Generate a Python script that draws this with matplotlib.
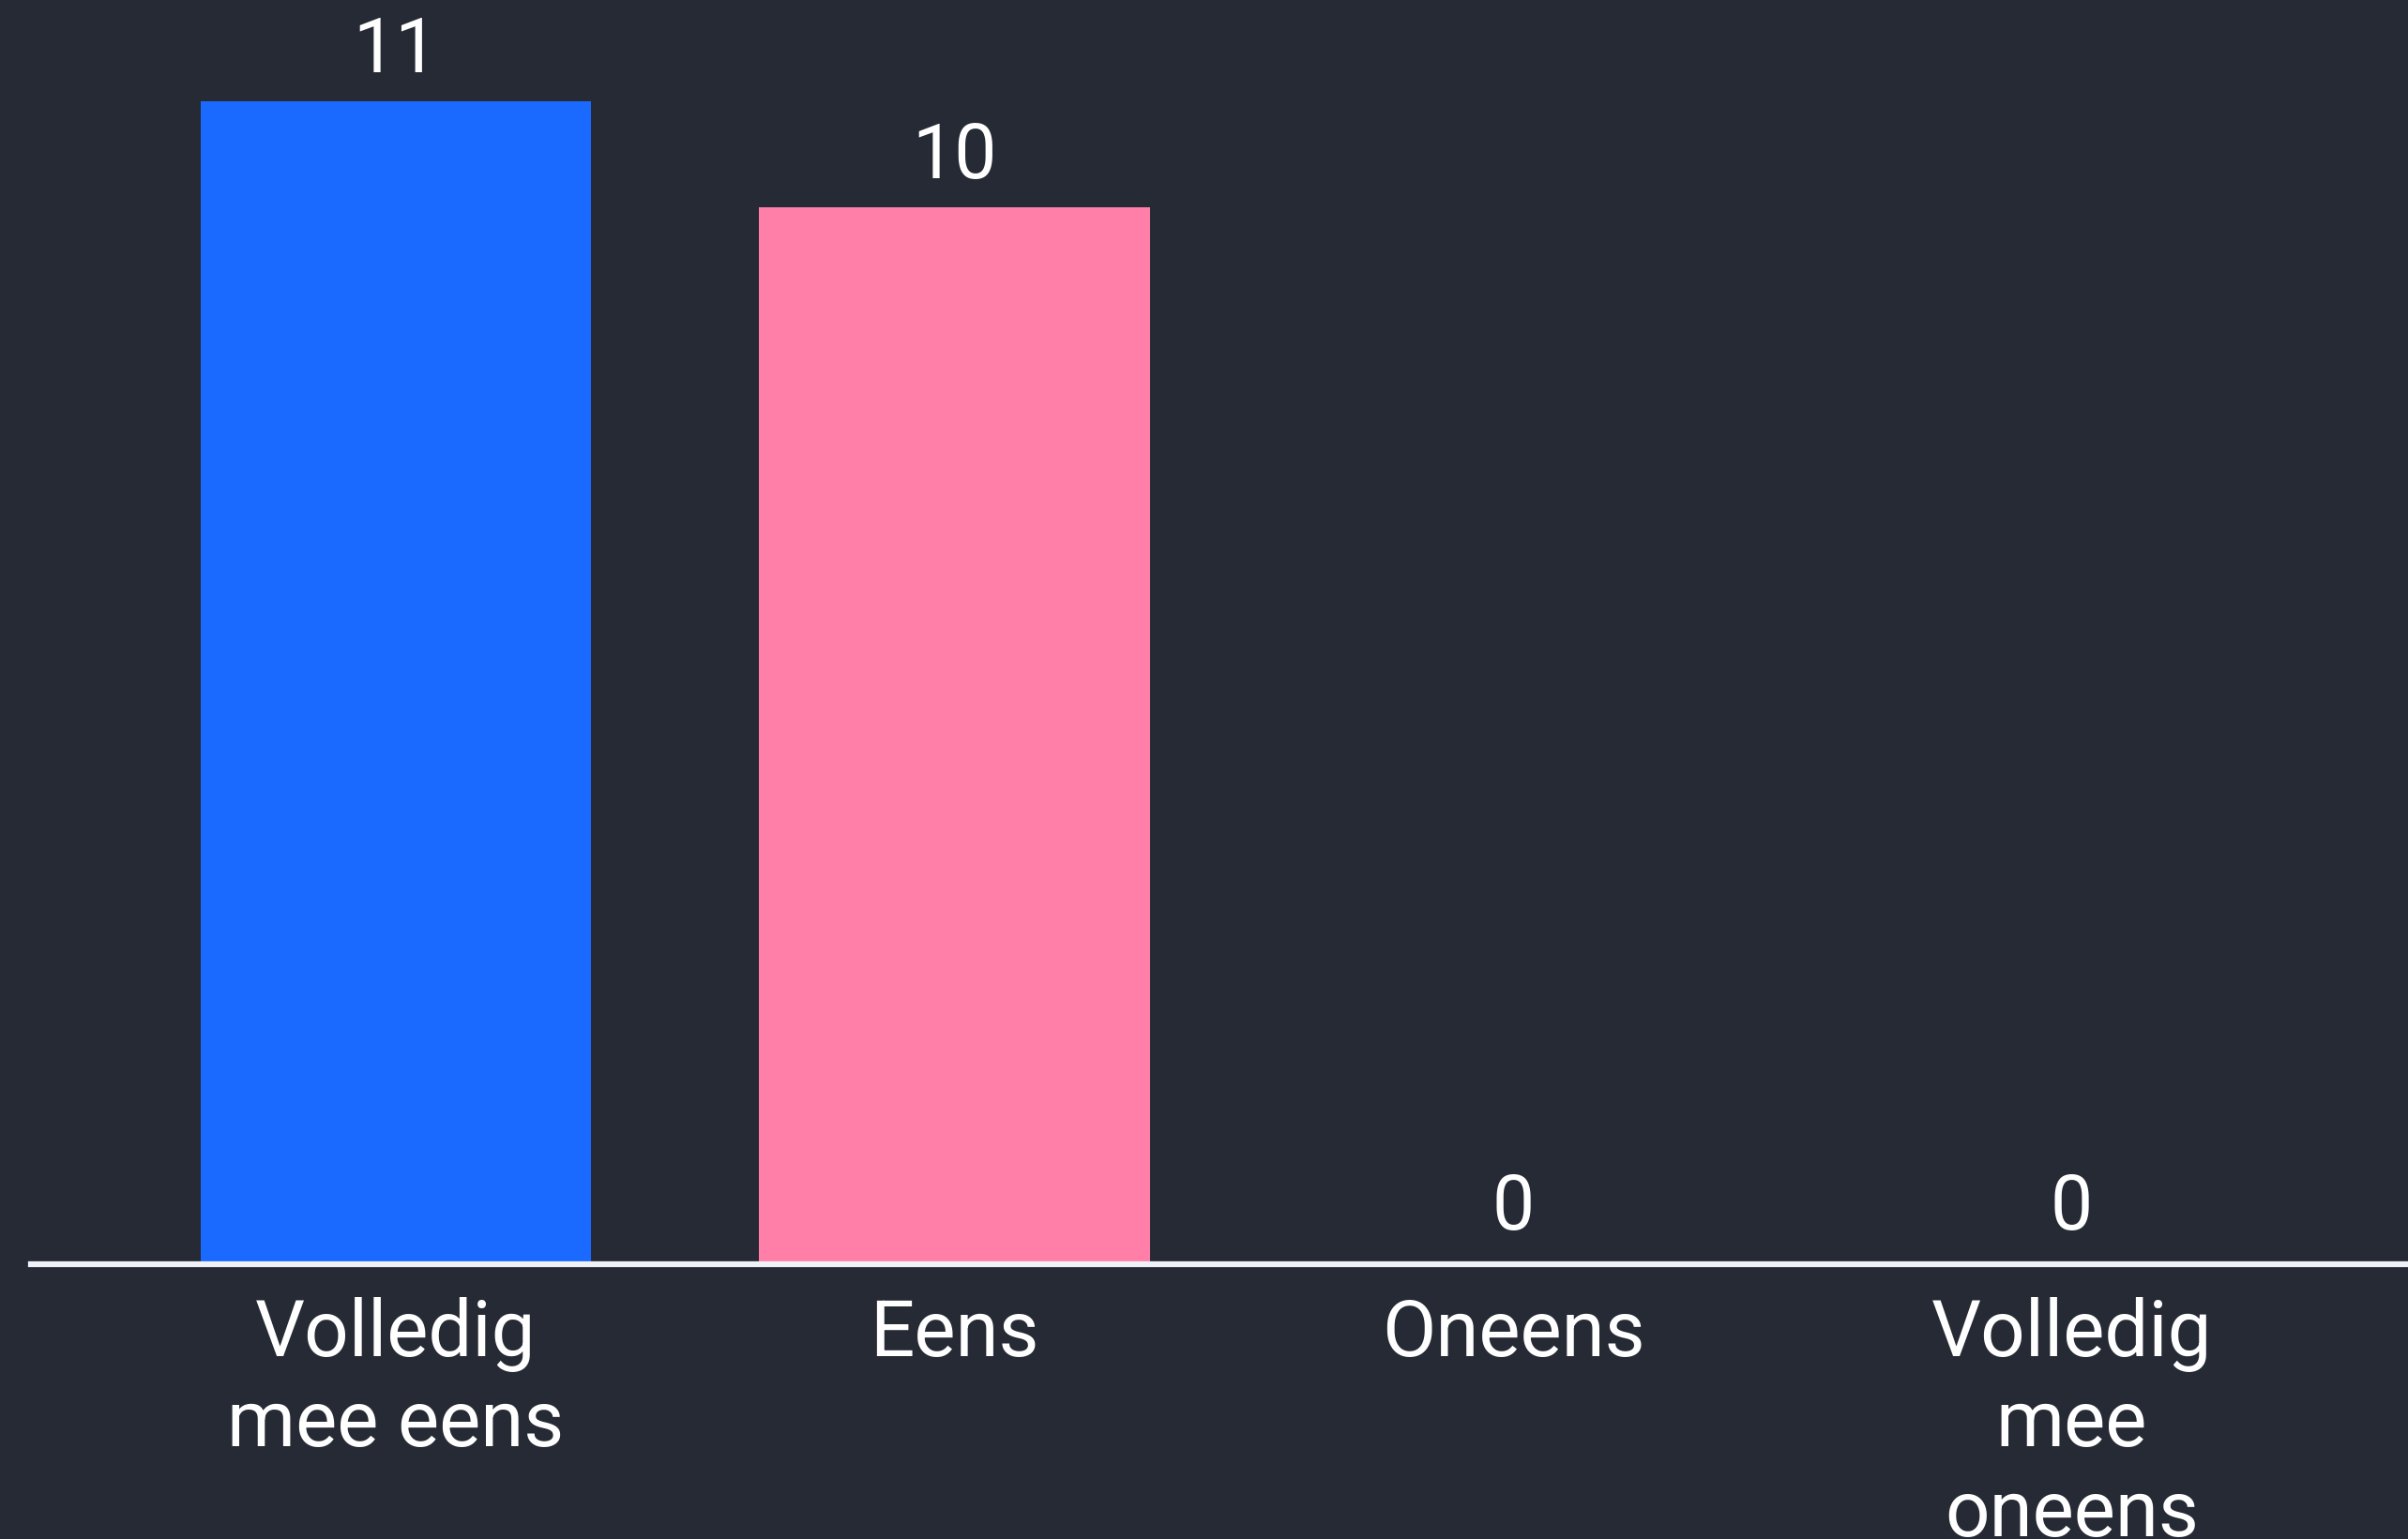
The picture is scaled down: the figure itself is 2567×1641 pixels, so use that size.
import matplotlib
matplotlib.use("Agg")
import matplotlib.pyplot as plt

categories = ["Volledig\nmee eens", "Eens", "Oneens", "Volledig\nmee\noneens"]
values = [11, 10, 0, 0]
colors = ["#1A6AFF", "#FF7FA8", "#1A6AFF", "#FF7FA8"]

BG = "#262A35"
plt.rcParams['font.family'] = ['Roboto', 'DejaVu Sans']

W, H = 2567, 1641
fig = plt.figure(figsize=(W / 100, H / 100), dpi=100, facecolor=BG)
left = 33 / W
bottom = (H - 1348) / H
ax = fig.add_axes([left, bottom, 1 - left, 1 - bottom], facecolor=BG)

x = list(range(len(categories)))
ax.bar(x, values, width=0.7, color=colors, zorder=2)

unit = (1348 - 108) / 11
ax.set_ylim(0, 1348 / unit)
ax.set_xlim(-(422 - 33) / 595.5, 3 + (W - 2208.5) / 595.5)

for xi, v in zip(x, values):
    off = 22 if v > 0 else 27
    ax.annotate(str(v), (xi, v), xytext=(0, off), textcoords="offset points",
                ha="center", va="baseline", fontsize=58, color="white")

for s in ["top", "right", "left"]:
    ax.spines[s].set_visible(False)
ax.spines["bottom"].set_color("#F0F2F7")
ax.spines["bottom"].set_linewidth(4.5)
ax.spines["bottom"].set_zorder(3)

ax.set_yticks([])
ax.set_xticks(x)
ax.set_xticklabels(categories, fontsize=60, color="white", linespacing=1.26)
ax.tick_params(axis="x", length=0, pad=25)

fig.savefig("out.png", dpi=100, facecolor=BG)
